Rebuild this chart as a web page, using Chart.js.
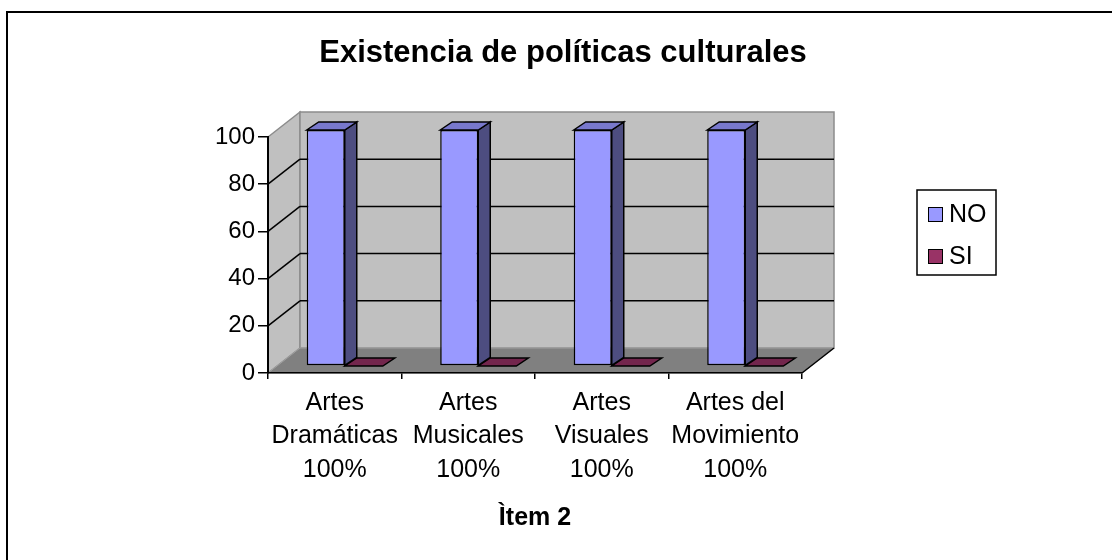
<!DOCTYPE html>
<html lang="es">
<head>
    <meta charset="UTF-8">
    <title>Existencia de políticas culturales</title>
    <style>
        body {
            margin: 0;
            padding: 0;
            background-color: #fff;
            overflow: hidden;
        }
        #chart {
            display: block;
        }
    </style>
</head>
<body>
    <canvas id="chart" width="1112" height="560"></canvas>

    <script src="https://cdn.jsdelivr.net/npm/chart.js"></script>
    <script>
        // data
        const categories = [
            ['Artes', 'Dramáticas', '100%'],
            ['Artes', 'Musicales', '100%'],
            ['Artes', 'Visuales', '100%'],
            ['Artes del', 'Movimiento', '100%']
        ];
        const seriesNames = ['NO', 'SI'];
        const noValues = [100, 100, 100, 100];
        const siValues = [0, 0, 0, 0];
        const yMin = 0;
        const yMax = 100;
        const yStep = 20;
        const chartTitle = 'Existencia de políticas culturales';
        const axisTitle = 'Ìtem 2';

        const fontFamily = "Arial, 'Liberation Sans', sans-serif";

        // fake 3D geometry (pixels)
        const wallDepth = { x: 32, y: -25 };
        const barShift = { x: 10, y: -7 };
        const barDepth = { x: 12, y: -8 };

        function poly(ctx, pts, fill, stroke, lw) {
            ctx.beginPath();
            ctx.moveTo(pts[0][0], pts[0][1]);
            for (let i = 1; i < pts.length; i++) ctx.lineTo(pts[i][0], pts[i][1]);
            ctx.closePath();
            if (fill) {
                ctx.fillStyle = fill;
                ctx.fill();
            }
            if (stroke) {
                ctx.strokeStyle = stroke;
                ctx.lineWidth = lw || 1;
                ctx.stroke();
            }
        }

        function line(ctx, x1, y1, x2, y2, color, lw) {
            ctx.beginPath();
            ctx.moveTo(x1, y1);
            ctx.lineTo(x2, y2);
            ctx.strokeStyle = color;
            ctx.lineWidth = lw;
            ctx.stroke();
        }

        const box3d = {
            id: 'box3d',
            beforeDraw(chart) {
                const ctx = chart.ctx;
                const a = chart.chartArea;
                const y = chart.scales.y;
                const L = a.left, R = a.right;
                const T = y.getPixelForValue(yMax), B = y.getPixelForValue(yMin);
                const dx = wallDepth.x, dy = wallDepth.y;
                ctx.save();
                // left wall
                poly(ctx, [[L, T], [L + dx, T + dy], [L + dx, B + dy], [L, B]], '#C0C0C0', '#8C8C8C', 1.5);
                // back wall
                poly(ctx, [[L + dx, T + dy], [R + dx, T + dy], [R + dx, B + dy], [L + dx, B + dy]], '#C0C0C0', '#8C8C8C', 1.5);
                // floor
                poly(ctx, [[L, B], [R, B], [R + dx, B + dy], [L + dx, B + dy]], '#808080', '#A0A0A0', 1);
                line(ctx, R, B, R + dx, B + dy, '#000', 1.5);
                // gridlines on walls
                y.ticks.forEach(t => {
                    if (t.value <= yMin || t.value >= yMax) return;
                    const py = y.getPixelForValue(t.value);
                    line(ctx, L, py, L + dx, py + dy, '#000', 1.5);
                    line(ctx, L + dx, py + dy, R + dx, py + dy, '#000', 1.5);
                });
                ctx.restore();
            },
            beforeDatasetDraw(chart, args) {
                const ctx = chart.ctx;
                const ds = chart.data.datasets[args.index];
                ctx.save();
                ctx.translate(barShift.x, barShift.y);
                args.meta.data.forEach(el => {
                    const p = el.getProps(['x', 'y', 'base', 'width'], true);
                    const left = p.x - p.width / 2, right = p.x + p.width / 2;
                    const top = Math.min(p.y, p.base), bottom = Math.max(p.y, p.base);
                    const dx = barDepth.x, dy = barDepth.y;
                    if (bottom - top > 0.5) {
                        poly(ctx, [[right, top], [right + dx, top + dy], [right + dx, bottom + dy], [right, bottom]],
                            ds.sideColor, '#000', 1.5);
                    }
                    poly(ctx, [[left, top], [left + dx, top + dy], [right + dx, top + dy], [right, top]],
                        ds.topColor, '#000', 1.5);
                });
            },
            afterDatasetDraw(chart) {
                chart.ctx.restore();
            },
            afterDraw(chart) {
                const ctx = chart.ctx;
                ctx.save();
                // title
                ctx.fillStyle = '#000';
                ctx.font = 'bold 31px ' + fontFamily;
                ctx.textAlign = 'center';
                ctx.textBaseline = 'alphabetic';
                ctx.fillText(chartTitle, 563, 62);

                // legend
                ctx.strokeStyle = '#000';
                ctx.lineWidth = 1.5;
                ctx.strokeRect(917, 190, 79, 85);
                ctx.font = '25px ' + fontFamily;
                ctx.textAlign = 'left';
                ctx.textBaseline = 'middle';
                chart.data.datasets.forEach((ds, i) => {
                    const ty = 214 + i * 42;
                    ctx.fillStyle = ds.backgroundColor;
                    ctx.fillRect(928, ty - 7, 14, 14);
                    ctx.lineWidth = 1;
                    ctx.strokeRect(928.5, ty - 6.5, 14, 14);
                    ctx.fillStyle = '#000';
                    ctx.fillText(ds.label, 949, ty + 1);
                });

                // frame (only left and top edges are inside the picture)
                ctx.beginPath();
                ctx.moveTo(7, 560);
                ctx.lineTo(7, 12);
                ctx.lineTo(1112, 12);
                ctx.strokeStyle = '#000';
                ctx.lineWidth = 2;
                ctx.stroke();
                ctx.restore();
            }
        };

        Chart.defaults.font.family = fontFamily;
        Chart.defaults.color = '#000';

        const chart = new Chart(document.getElementById('chart'), {
            type: 'bar',
            data: {
                labels: categories,
                datasets: [
                    {
                        label: seriesNames[0],
                        data: noValues,
                        backgroundColor: '#9999FF',
                        topColor: '#7878CC',
                        sideColor: '#4D4D80',
                        borderColor: '#000',
                        borderWidth: 1.5,
                        borderSkipped: false,
                        barPercentage: 1,
                        categoryPercentage: 0.57,
                        clip: false
                    },
                    {
                        label: seriesNames[1],
                        data: siValues,
                        backgroundColor: '#993366',
                        topColor: '#73264D',
                        sideColor: '#4D1A33',
                        borderColor: '#000',
                        borderWidth: 1.5,
                        borderSkipped: false,
                        barPercentage: 1,
                        categoryPercentage: 0.57,
                        clip: false
                    }
                ]
            },
            options: {
                responsive: false,
                devicePixelRatio: 1,
                animation: false,
                layout: {
                    padding: { top: 137, left: 10, right: 310, bottom: 27 }
                },
                plugins: {
                    legend: { display: false },
                    title: { display: false },
                    tooltip: { enabled: false }
                },
                scales: {
                    x: {
                        offset: true,
                        grid: {
                            display: true,
                            drawOnChartArea: false,
                            offset: true,
                            tickLength: 6,
                            color: '#000',
                            lineWidth: 1.5
                        },
                        border: { display: true, color: '#000', width: 1.5 },
                        ticks: {
                            color: '#000',
                            font: { size: 25, lineHeight: 1.34 },
                            padding: 7,
                            maxRotation: 0,
                            minRotation: 0,
                            autoSkip: false
                        },
                        title: {
                            display: true,
                            text: axisTitle,
                            color: '#000',
                            font: { size: 25, weight: 'bold', lineHeight: 1.2 },
                            padding: 0
                        },
                        afterFit(scale) {
                            scale.height = 160;
                        }
                    },
                    y: {
                        min: yMin,
                        max: yMax,
                        ticks: {
                            stepSize: yStep,
                            color: '#000',
                            font: { size: 24 },
                            padding: 3
                        },
                        grid: {
                            display: true,
                            drawOnChartArea: false,
                            tickLength: 10,
                            color: '#000',
                            lineWidth: 1.5
                        },
                        border: { display: true, color: '#000', width: 2 },
                        afterFit(scale) {
                            scale.width = 258;
                        }
                    }
                }
            },
            plugins: [box3d]
        });
    </script>
</body>
</html>
